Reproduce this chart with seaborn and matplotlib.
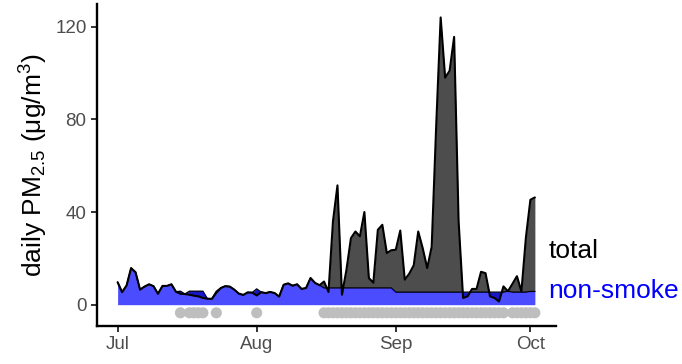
import matplotlib
matplotlib.use("Agg")
import matplotlib.pyplot as plt
import numpy as np
import pandas as pd
import seaborn as sns

# Daily series, 1 Jul - 2 Oct
start_date = "2020-07-01"
end_date = "2020-10-02"

total_pm = [
    9.7, 5.4, 8.3, 15.8, 14.0, 6.5, 7.8, 8.8, 8.0, 4.7,
    8.1, 8.1, 8.8, 5.6, 4.7, 4.6, 4.3, 3.9, 3.6, 2.9,
    2.6, 2.5, 5.2, 7.2, 8.0, 7.8, 6.5, 4.8, 4.2, 5.3,
    5.2, 4.0, 5.4, 5.0, 5.5, 5.0, 3.5, 8.6, 9.2, 8.2,
    8.8, 6.8, 7.2, 11.5, 9.4, 8.4, 10.0, 5.5, 36.0, 51.5,
    4.3, 15.0, 28.7, 31.6, 29.5, 40.0, 11.5, 9.5, 32.3, 34.5,
    22.3, 23.5, 23.7, 32.0, 10.8, 13.4, 17.0, 31.6, 24.4, 15.8,
    25.0, 77.0, 124.0, 98.0, 101.0, 115.6, 36.0, 2.9, 3.6, 6.8,
    6.8, 14.2, 13.6, 3.6, 2.9, 1.4, 7.9, 5.8, 9.0, 12.3,
    5.7, 29.0, 45.3, 46.3,
]

nonsmoke_pm = [
    9.7, 5.4, 8.3, 15.8, 14.0, 6.5, 7.8, 8.8, 8.0, 4.7,
    8.1, 8.1, 8.8, 5.6, 5.8, 4.6, 5.8, 5.8, 5.8, 5.8,
    2.6, 2.5, 5.8, 7.2, 8.0, 7.8, 6.5, 4.8, 4.2, 5.3,
    5.2, 6.8, 5.4, 5.0, 5.5, 5.0, 3.5, 8.6, 9.2, 8.2,
    8.8, 6.8, 7.2, 11.5, 9.4, 8.4, 7.2, 7.2, 7.2, 7.2,
    7.2, 7.2, 7.2, 7.2, 7.2, 7.2, 7.2, 7.2, 7.2, 7.2,
    7.2, 7.2, 5.4, 5.4, 5.4, 5.4, 5.4, 5.4, 5.4, 5.4,
    5.4, 5.4, 5.4, 5.4, 5.4, 5.4, 5.4, 5.4, 5.4, 5.4,
    5.4, 5.4, 5.4, 5.4, 5.4, 5.4, 5.4, 5.8, 5.4, 5.4,
    5.4, 5.4, 5.7, 5.7,
]

# 1 = smoke-influenced day
smoke_flag = [
    0, 0, 0, 0, 0, 0, 0, 0, 0, 0,
    0, 0, 0, 0, 1, 0, 1, 1, 1, 1,
    0, 0, 1, 0, 0, 0, 0, 0, 0, 0,
    0, 1, 0, 0, 0, 0, 0, 0, 0, 0,
    0, 0, 0, 0, 0, 0, 1, 1, 1, 1,
    1, 1, 1, 1, 1, 1, 1, 1, 1, 1,
    1, 1, 1, 1, 1, 1, 1, 1, 1, 1,
    1, 1, 1, 1, 1, 1, 1, 1, 1, 1,
    1, 1, 1, 1, 1, 1, 1, 0, 1, 1,
    1, 1, 1, 1,
]

smoke_marker_level = -3.5
month_ticks = ["2020-07-01", "2020-08-01", "2020-09-01", "2020-10-01"]
month_labels = ["Jul", "Aug", "Sep", "Oct"]
y_ticks = [0, 40, 80, 120]

df = pd.DataFrame({
    "date": pd.date_range(start_date, end_date, freq="D"),
    "total": total_pm,
    "nonsmoke": nonsmoke_pm,
    "smoke": smoke_flag,
})
smoke_df = df[df["smoke"] == 1].assign(level=smoke_marker_level)

sns.set_theme(style="ticks")
plt.rcParams["font.family"] = ["Liberation Sans", "DejaVu Sans"]
plt.rcParams["mathtext.fontset"] = "custom"
plt.rcParams["mathtext.rm"] = "Liberation Sans"
plt.rcParams["mathtext.it"] = "Liberation Sans:italic"

fig = plt.figure(figsize=(6.82, 3.64), dpi=100)
ax = fig.add_axes([0.1422, 0.1044, 0.6730, 0.8846])

# smoke contribution: ribbon between non-smoke and total
ax.fill_between(df["date"], df["nonsmoke"], df["total"], color="#4D4D4D", lw=0, zorder=1)
ax.plot(df["date"], df["nonsmoke"], color="black", lw=1.0, zorder=1.5)
# non-smoke baseline area
ax.fill_between(df["date"], 0, df["nonsmoke"], color="blue", alpha=0.7, lw=0, zorder=2)
# total line
sns.lineplot(data=df, x="date", y="total", color="black", lw=1.5, ax=ax, zorder=3)
# smoke-day markers
sns.scatterplot(data=smoke_df, x="date", y="level", color="#BEBEBE", s=64,
                edgecolor="none", ax=ax, zorder=3)

x0 = pd.Timestamp(start_date)
ax.set_xlim(x0 - pd.Timedelta(days=4.6), x0 + pd.Timedelta(days=97.7))
ax.set_ylim(-9.2, 129.8)
ax.set_xticks(pd.to_datetime(month_ticks))
ax.set_xticklabels(month_labels)
ax.set_yticks(y_ticks)
ax.set_xlabel("")
ax.set_ylabel(r"daily PM$_{2.5}$ ($\mathrm{\mu}$g/m$^3$)", fontsize=19, color="black", labelpad=4)

for side in ["top", "right"]:
    ax.spines[side].set_visible(False)
for side in ["left", "bottom"]:
    ax.spines[side].set_linewidth(1.7)
    ax.spines[side].set_color("black")
ax.tick_params(axis="both", length=4, width=1.4, color="#333333",
               labelsize=13.5, labelcolor="#4D4D4D")

label_x = x0 + pd.Timedelta(days=96)
ax.text(label_x, 23, "total", color="black", fontsize=19, ha="left", va="center", clip_on=False)
ax.text(label_x, 5.7, "non-smoke", color="blue", fontsize=19, ha="left", va="center", clip_on=False)

fig.savefig("out.png", dpi=100)
